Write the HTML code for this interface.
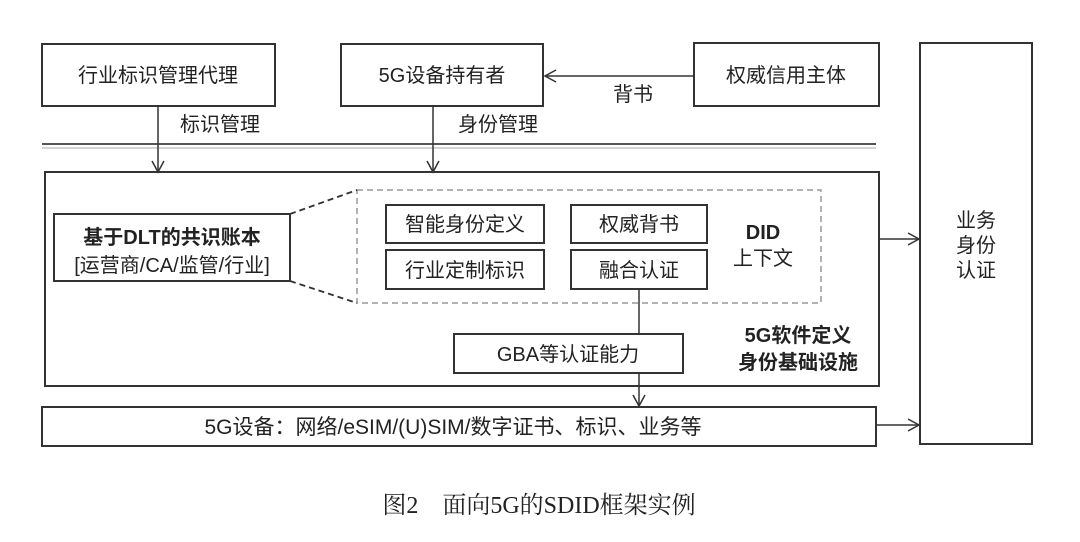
<!DOCTYPE html>
<html><head><meta charset="utf-8"><style>
html,body{margin:0;padding:0;background:#fff;}
svg{display:block}
text{font-family:"Liberation Sans","Noto Sans CJK SC",sans-serif;fill:#222;}
</style></head><body>
<svg width="1080" height="542" viewBox="0 0 1080 542" xmlns="http://www.w3.org/2000/svg">
<defs>
<marker id="a" markerWidth="14" markerHeight="14" refX="12" refY="7" orient="auto" markerUnits="userSpaceOnUse">
<path d="M1,1 L12,7 L1,13" fill="none" stroke="#333" stroke-width="1.5"/>
</marker>
</defs>
<g fill="none" stroke="#333" stroke-width="2">
<rect x="42" y="44" width="233" height="62"/>
<rect x="341" y="44" width="202" height="62"/>
<rect x="694" y="43" width="185" height="63"/>
<rect x="920" y="43" width="112" height="401"/>
<rect x="45" y="172" width="834" height="214"/>
<rect x="54" y="214" width="236" height="67"/>
<rect x="386" y="205" width="158" height="38"/>
<rect x="386" y="250" width="158" height="39"/>
<rect x="571" y="205" width="136" height="38"/>
<rect x="571" y="250" width="136" height="39"/>
<rect x="454" y="334" width="229" height="39"/>
<rect x="42" y="407" width="834" height="39"/>
</g>
<g stroke="#555" stroke-width="2">
<line x1="42" y1="144" x2="876" y2="144"/>
<line x1="42" y1="148" x2="876" y2="148" stroke="#aaa" stroke-width="1"/>
</g>
<rect x="357" y="190" width="464" height="113" fill="none" stroke="#999" stroke-width="1.5" stroke-dasharray="6,4"/>
<g stroke="#333" stroke-width="1.8" stroke-dasharray="6,4" fill="none">
<line x1="290" y1="214" x2="357" y2="190"/>
<line x1="290" y1="281" x2="357" y2="303"/>
</g>
<g stroke="#333" stroke-width="1.5" fill="none" marker-end="url(#a)">
<line x1="158" y1="106" x2="158" y2="172"/>
<line x1="433" y1="106" x2="433" y2="172"/>
<line x1="694" y1="76" x2="545" y2="76"/>
<line x1="879" y1="239" x2="919" y2="239"/>
<line x1="876" y1="425" x2="919" y2="425"/>
<line x1="639" y1="373" x2="639" y2="406"/>
</g>
<line x1="639" y1="289" x2="639" y2="334" stroke="#333" stroke-width="1.5"/>
<g font-size="20" text-anchor="middle">
<text x="158" y="82">行业标识管理代理</text>
<text x="442" y="82">5G设备持有者</text>
<text x="786" y="82">权威信用主体</text>
<text x="633" y="101" fill="#444">背书</text>
<text x="220" y="131" fill="#444">标识管理</text>
<text x="498" y="131" fill="#444">身份管理</text>
<text x="465" y="231">智能身份定义</text>
<text x="465" y="277">行业定制标识</text>
<text x="639" y="231">权威背书</text>
<text x="639" y="277">融合认证</text>
<text x="172" y="272">[运营商/CA/监管/行业]</text>
<text x="976" y="227" fill="#444">业务</text>
<text x="976" y="252" fill="#444">身份</text>
<text x="976" y="277" fill="#444">认证</text>
</g>
<g font-size="20" text-anchor="middle" font-weight="bold">
<text x="172" y="244">基于DLT的共识账本</text>
<text x="763" y="239">DID</text>
<text x="763" y="265" font-weight="normal">上下文</text>
<text x="798" y="342">5G软件定义</text>
<text x="798" y="369">身份基础设施</text>
</g>
<text x="568" y="361" font-size="20" text-anchor="middle">GBA等认证能力</text>
<text x="453" y="434" font-size="21" text-anchor="middle">5G设备：网络/eSIM/(U)SIM/数字证书、标识、业务等</text>
<text x="539" y="513" font-size="24" text-anchor="middle" fill="#555" style="font-family:'Liberation Serif','Noto Serif CJK SC',serif">图2　面向5G的SDID框架实例</text>
</svg>
</body></html>
